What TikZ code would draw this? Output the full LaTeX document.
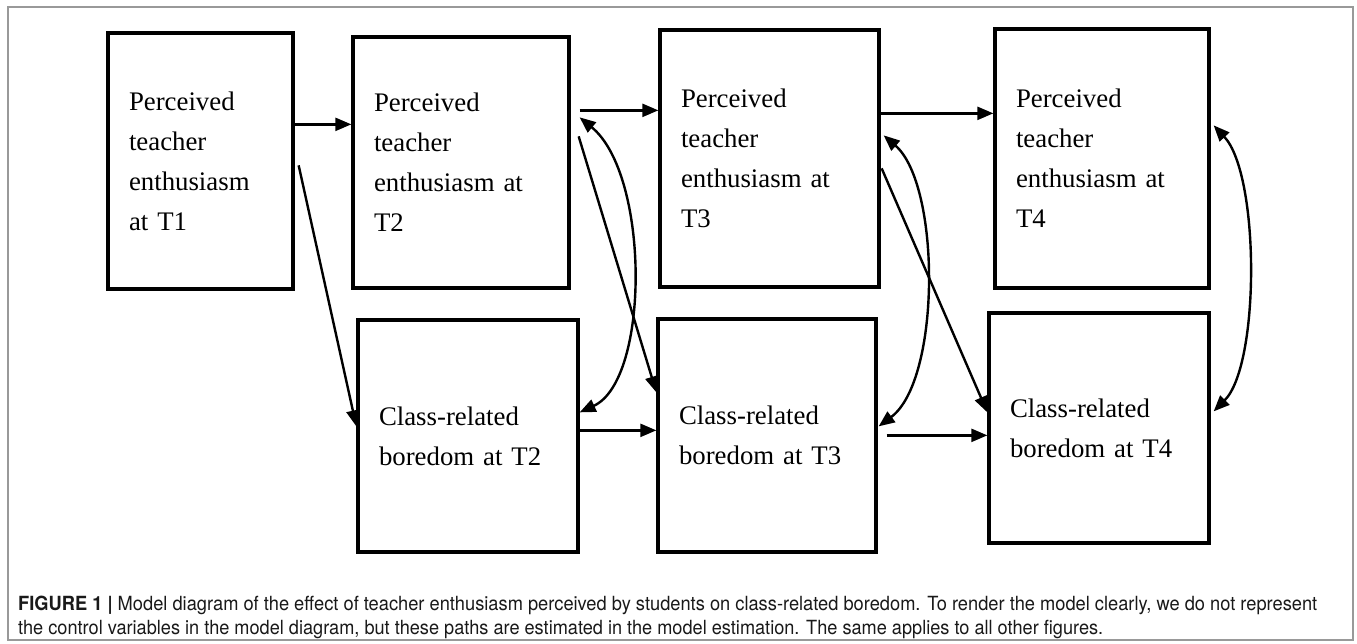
\documentclass[tikz,border=0pt]{standalone}
\usepackage{fontspec}
\setmainfont{Liberation Serif}
\newfontfamily\capfont{TeX Gyre Heros}
\usetikzlibrary{arrows.meta,calc}
\begin{document}
\begin{tikzpicture}[x=1pt,y=-1pt,
  boxnode/.style={draw, line width=3.3pt, rectangle, inner ysep=0pt, inner xsep=21pt, align=left, font=\fontsize{26.8}{40}\selectfont},
  arr/.style={line width=2.4pt, -{Triangle[length=16pt,width=13pt]}},
  dbl/.style={line width=2.4pt, {Triangle[length=16pt,width=13pt]}-{Triangle[length=16pt,width=13pt]}},
  capline/.style={anchor=base west, inner sep=0pt, font=\capfont\fontsize{19.5}{23}\selectfont, text=black!90}
]
\useasboundingbox (0,0) rectangle (1357,643);
\draw[black!40, line width=1.5pt] (8,7) rectangle (1353,640);

\node[boxnode, minimum width=185pt, minimum height=256pt, text width=143pt] (b1) at (200.5,161) {Perceived\\teacher\\enthusiasm\\at T1};
\node[boxnode, minimum width=216pt, minimum height=251pt, text width=174pt] (b2) at (461,162.5) {Perceived\\teacher\\enthusiasm at\\T2};
\node[boxnode, minimum width=219pt, minimum height=257pt, text width=177pt] (b3) at (769.5,158.5) {Perceived\\teacher\\enthusiasm at\\T3};
\node[boxnode, minimum width=214pt, minimum height=259pt, text width=172pt] (b4) at (1102,158.5) {Perceived\\teacher\\enthusiasm at\\T4};
\node[boxnode, minimum width=220pt, minimum height=232pt, text width=178pt] (c2) at (468,436) {Class-related\\boredom at T2};
\node[boxnode, minimum width=218pt, minimum height=233pt, text width=176pt] (c3) at (767,435.5) {Class-related\\boredom at T3};
\node[boxnode, minimum width=220pt, minimum height=230pt, text width=178pt] (c4) at (1099,428) {Class-related\\boredom at T4};

\draw[arr] ([yshift=-93pt]b1.north east) -- ([yshift=-89pt]b2.north west);
\draw[arr] ([xshift=4pt,yshift=-134pt]b1.north east) -- ([yshift=-108pt]c2.north west);
\draw[arr] ([xshift=9pt,yshift=-75pt]b2.north east) -- ([yshift=-82pt]b3.north west);
\draw[arr] ([xshift=8pt,yshift=-101pt]b2.north east) -- ([yshift=-75pt]c3.north west);
\draw[dbl] ([xshift=9pt,yshift=-82pt]b2.north east) .. controls (650,175) and (650,380) .. ([yshift=-94pt]c2.north east);
\draw[arr] ([yshift=-112pt]c2.north east) -- ([yshift=-113pt]c3.north west);
\draw[arr] ([yshift=-85pt]b3.north east) -- ([yshift=-86pt]b4.north west);
\draw[arr] ([xshift=1pt,yshift=-140pt]b3.north east) -- ([yshift=-101pt]c4.north west);
\draw[dbl] ([xshift=3pt,yshift=-107pt]b3.north east) .. controls (941,185) and (941,380) .. ([xshift=1pt,yshift=-109pt]c3.north east);
\draw[arr] ([xshift=9pt,yshift=-118pt]c3.north east) -- ([yshift=-124pt]c4.north west);
\draw[dbl] ([xshift=3pt,yshift=-98pt]b4.north east) .. controls (1260,175) and (1260,365) .. ([xshift=3pt,yshift=-100pt]c4.north east);

\node[capline] (cap1) at (18,610) {\resizebox{1299pt}{\height}{\textbf{FIGURE 1 |} Model diagram of the effect of teacher enthusiasm perceived by students on class-related boredom. To render the model clearly, we do not represent}};
\node[capline] (cap2) at (18,634) {\resizebox{1085pt}{\height}{the control variables in the model diagram, but these paths are estimated in the model estimation. The same applies to all other figures.}};
\end{tikzpicture}
\end{document}
